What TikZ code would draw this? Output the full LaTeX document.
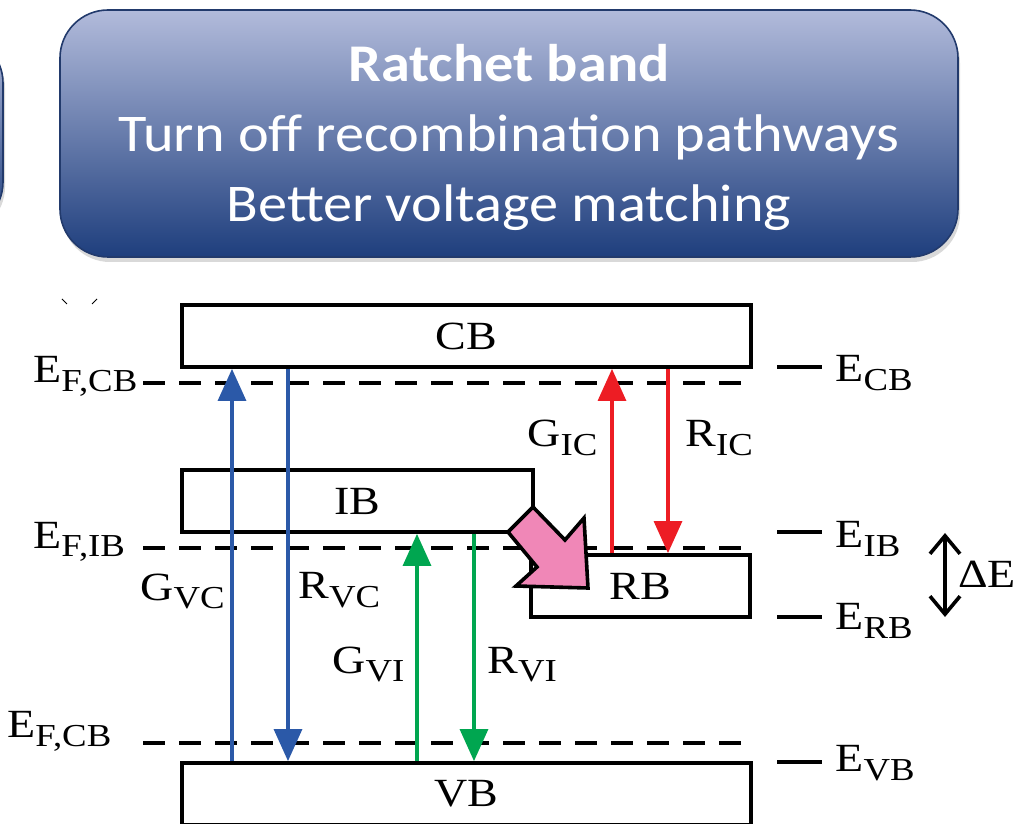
\documentclass[tikz,border=0pt]{standalone}
\usepackage{fontspec}
\setmainfont{Liberation Serif}[FakeStretch=1.15]
\newfontfamily\headfont{Carlito}[FakeStretch=1.1]
\usepackage{tikz}
\usetikzlibrary{positioning, arrows.meta, shadows}
\definecolor{headtop}{RGB}{178,187,219}
\definecolor{headbot}{RGB}{30,62,125}
\definecolor{headline}{RGB}{34,58,108}
\definecolor{vcblue}{RGB}{43,89,168}
\definecolor{vigreen}{RGB}{0,166,80}
\definecolor{icred}{RGB}{237,29,36}
\definecolor{rbpink}{RGB}{240,135,183}
\newcommand\lvl[2]{#1\lower4.5pt\hbox{\fontsize{16}{18}\selectfont #2}}

\begin{document}
\begin{tikzpicture}[x=0.5pt, y=-0.5pt,
  font=\fontsize{20}{24}\selectfont,
  headbox/.style={rounded corners=24pt, draw=headline, line width=0.8pt,
    top color=headtop, bottom color=headbot,
    drop shadow={shadow xshift=1pt, shadow yshift=-2.5pt, opacity=0.3}},
  headtxt/.style={anchor=base, text=white, font=\headfont\fontsize{26.5}{32}\selectfont},
  band/.style={draw, line width=1.9pt, minimum width=#1, minimum height=31pt,
    inner sep=0pt, font=\fontsize{20}{24}\selectfont},
  fermi/.style={line width=1.8pt, dash pattern=on 11pt off 7pt},
  level/.style={line width=1.7pt},
  rate/.style={line width=1.6pt, -{Triangle[length=16pt, width=14pt]}}]
\useasboundingbox (0,0) rectangle (1025,824);

% header boxes
\node[headbox, minimum width=150pt, minimum height=97.5pt] (prev) at (-147,132.5) {};
\node[headbox, minimum width=449pt, minimum height=123.5pt] (head) at (509,133.5) {};
\foreach \nm/\y/\txt in {ttl/82/\textbf{Ratchet band}, ln1/152/Turn off recombination pathways, ln2/222/Better voltage matching}
  \node[headtxt] (\nm) at (509,\y) {\txt};
\draw[line width=0.5pt] (62,299) -- (67,304) (97,299) -- (92,304);

% bands
\node[band=284.5pt] (cb) at (466.5,336) {CB};
\node[band=175.5pt] (ib) at (357.5,501) {IB};
\node[band=109.5pt] (rb) at (640.5,586) {RB};
\node[band=284.5pt] (vb) at (466.5,794) {VB};

\foreach \y in {383,548,743}
  \draw[fermi] (143,\y) -- (750,\y);
\foreach \y in {367,532,617,762}
  \draw[level] (777,\y) -- (822,\y);

% transitions
\foreach \x/\lo/\hi/\c in {232/vb/cb/vcblue, 417/vb/ib/vigreen, 612/rb/cb/icred}
  \draw[rate, \c] (\lo.north -| \x,0) -- (\hi.south -| \x,0);
\foreach \x/\hi/\lo/\c in {288/cb/vb/vcblue, 474/ib/vb/vigreen, 668/cb/rb/icred}
  \draw[rate, \c] (\hi.south -| \x,0) -- (\lo.north -| \x,0);

\draw[line width=1.8pt, fill=rbpink, line join=miter]
  (533,507) -- (508,532) -- (537,567) -- (516,586) -- (588,588) -- (584,518) -- (565,540) -- cycle;

\coordinate (dtop) at (945,533);
\coordinate (dbot) at (945,617);
\draw[line width=1.8pt, {Straight Barb[length=9pt, width=15pt]}-{Straight Barb[length=9pt, width=15pt]}] (dtop) -- (dbot);
\node[anchor=base west, inner sep=0pt] (de) at (958,588) {ΔE};

% labels
\foreach \nm/\x/\y/\a/\b in {efcb/33/383/E/{F,CB}, efib/33/548/E/{F,IB}, efvb/7/737/E/{F,CB},
    ecb/835/382/E/CB, eib/835/547/E/IB, erb/835/630/E/RB, evb/835/771/E/VB,
    gvc/140/600/G/VC, rvc/298/598/R/VC, gvi/332/673/G/VI, rvi/487/673/R/VI,
    gic/527/447/G/IC, ric/685/447/R/IC}
  \node[anchor=base west, inner sep=0pt] (\nm) at (\x,\y) {\lvl{\a}{\b}};
\end{tikzpicture}
\end{document}
